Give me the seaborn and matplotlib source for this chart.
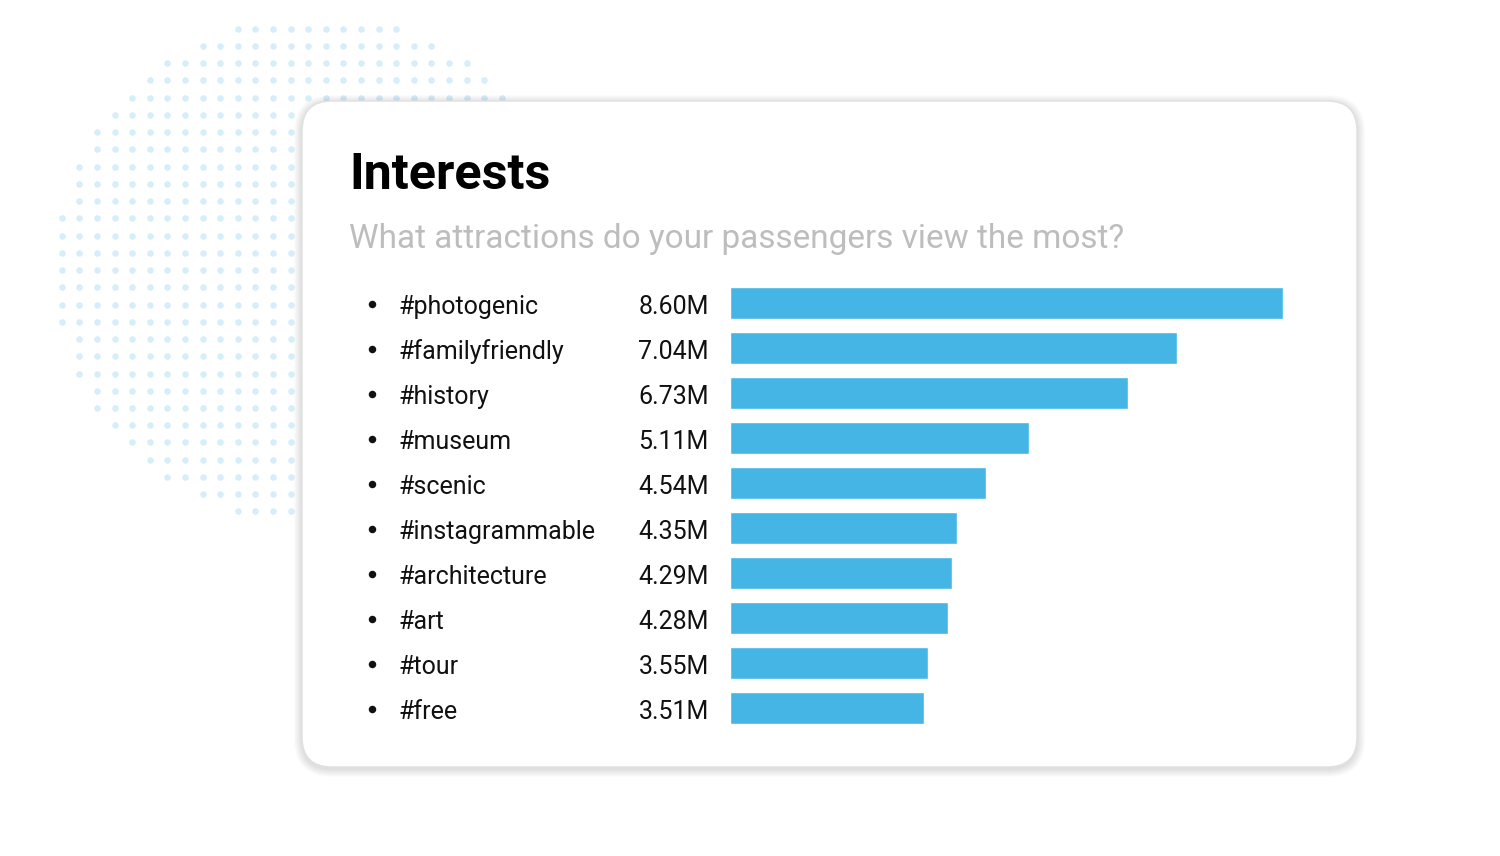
import numpy as np
import pandas as pd
import seaborn as sns
import matplotlib.pyplot as plt
from matplotlib.patches import FancyBboxPatch
from matplotlib import transforms

# Data
tags = ['#photogenic', '#familyfriendly', '#history', '#museum', '#scenic',
        '#instagrammable', '#architecture', '#art', '#tour', '#free']
view_labels = ['8.60M', '7.04M', '6.73M', '5.11M', '4.54M',
               '4.35M', '4.29M', '4.28M', '3.55M', '3.51M']
# bar lengths as drawn in the picture (millions, first bar = 8.60)
bar_lengths = [8.60, 6.95, 6.19, 4.65, 3.99, 3.53, 3.46, 3.40, 3.09, 3.02]

df = pd.DataFrame({'tag': tags, 'length': bar_lengths})

sns.set_theme(style='white')
plt.rcParams['font.family'] = ['Roboto', 'DejaVu Sans']

fig = plt.figure(figsize=(15, 8.56), dpi=100)
fig.patch.set_facecolor('white')

# background layer in pixel units
bg = fig.add_axes([0, 0, 1, 1])
bg.set_xlim(0, 1500)
bg.set_ylim(856, 0)
bg.axis('off')

# dotted halo behind the card
cols, rows = np.meshgrid(np.arange(30), np.arange(29))
keep = (cols - 14.5) ** 2 + (rows - 14) ** 2 <= 222
bg.scatter(61.7 + cols[keep] * 17.6, 28.7 + rows[keep] * 17.24,
           s=22, color='#d6edfa', linewidths=0, zorder=1)

# card with soft shadow
for k in range(8, 0, -1):
    bg.add_patch(FancyBboxPatch((302 - k, 103 - k), 1055 + 2 * k, 666 + 2 * k,
                                boxstyle=f'round,pad=0,rounding_size={30 + k}',
                                fc='black', lw=0, alpha=0.016, zorder=2))
bg.add_patch(FancyBboxPatch((302, 101), 1055, 666,
                            boxstyle='round,pad=0,rounding_size=30',
                            fc='white', ec='#e0e0e0', lw=1.0, zorder=3))

# title + subtitle
bg.text(349, 189.3, 'Interests', fontsize=36.2, fontweight='bold',
        color='black', va='baseline', ha='left', zorder=4)
bg.text(349, 248.3, 'What attractions do your passengers view the most?',
        fontsize=24.0, color='#bdbdbd', va='baseline', ha='left', zorder=4)

# bars
ax = fig.add_axes([729.5 / 1500, 125.5 / 856, 600 / 1500, 450 / 856])
sns.barplot(data=df, x='length', y='tag', orient='h', color='#45b5e6',
            saturation=1, width=0.72, ax=ax)
ax.set_xlim(0, 8.60 * 600 / 553.5)
ax.set_ylim(9.5, -0.5)
ax.axis('off')
ax.patch.set_alpha(0)

# row labels: x in pixels, y in bar rows
row_tr = transforms.blended_transform_factory(bg.transData, ax.transData)
text_tr = transforms.offset_copy(row_tr, fig=fig, y=-11.5, units='dots')
dot_tr = transforms.offset_copy(row_tr, fig=fig, y=-1.3, units='dots')

for i, (tag, lab) in enumerate(zip(tags, view_labels)):
    ax.text(399, i, tag, transform=text_tr, fontsize=18, color='#111111',
            ha='left', va='baseline', clip_on=False)
    ax.text(709, i, lab, transform=text_tr, fontsize=18, color='#111111',
            ha='right', va='baseline', clip_on=False)
    ax.plot([372], [i], marker='o', ms=5.4, color='#111111', mew=0,
            transform=dot_tr, clip_on=False)

fig.savefig('out.png', dpi=100)
